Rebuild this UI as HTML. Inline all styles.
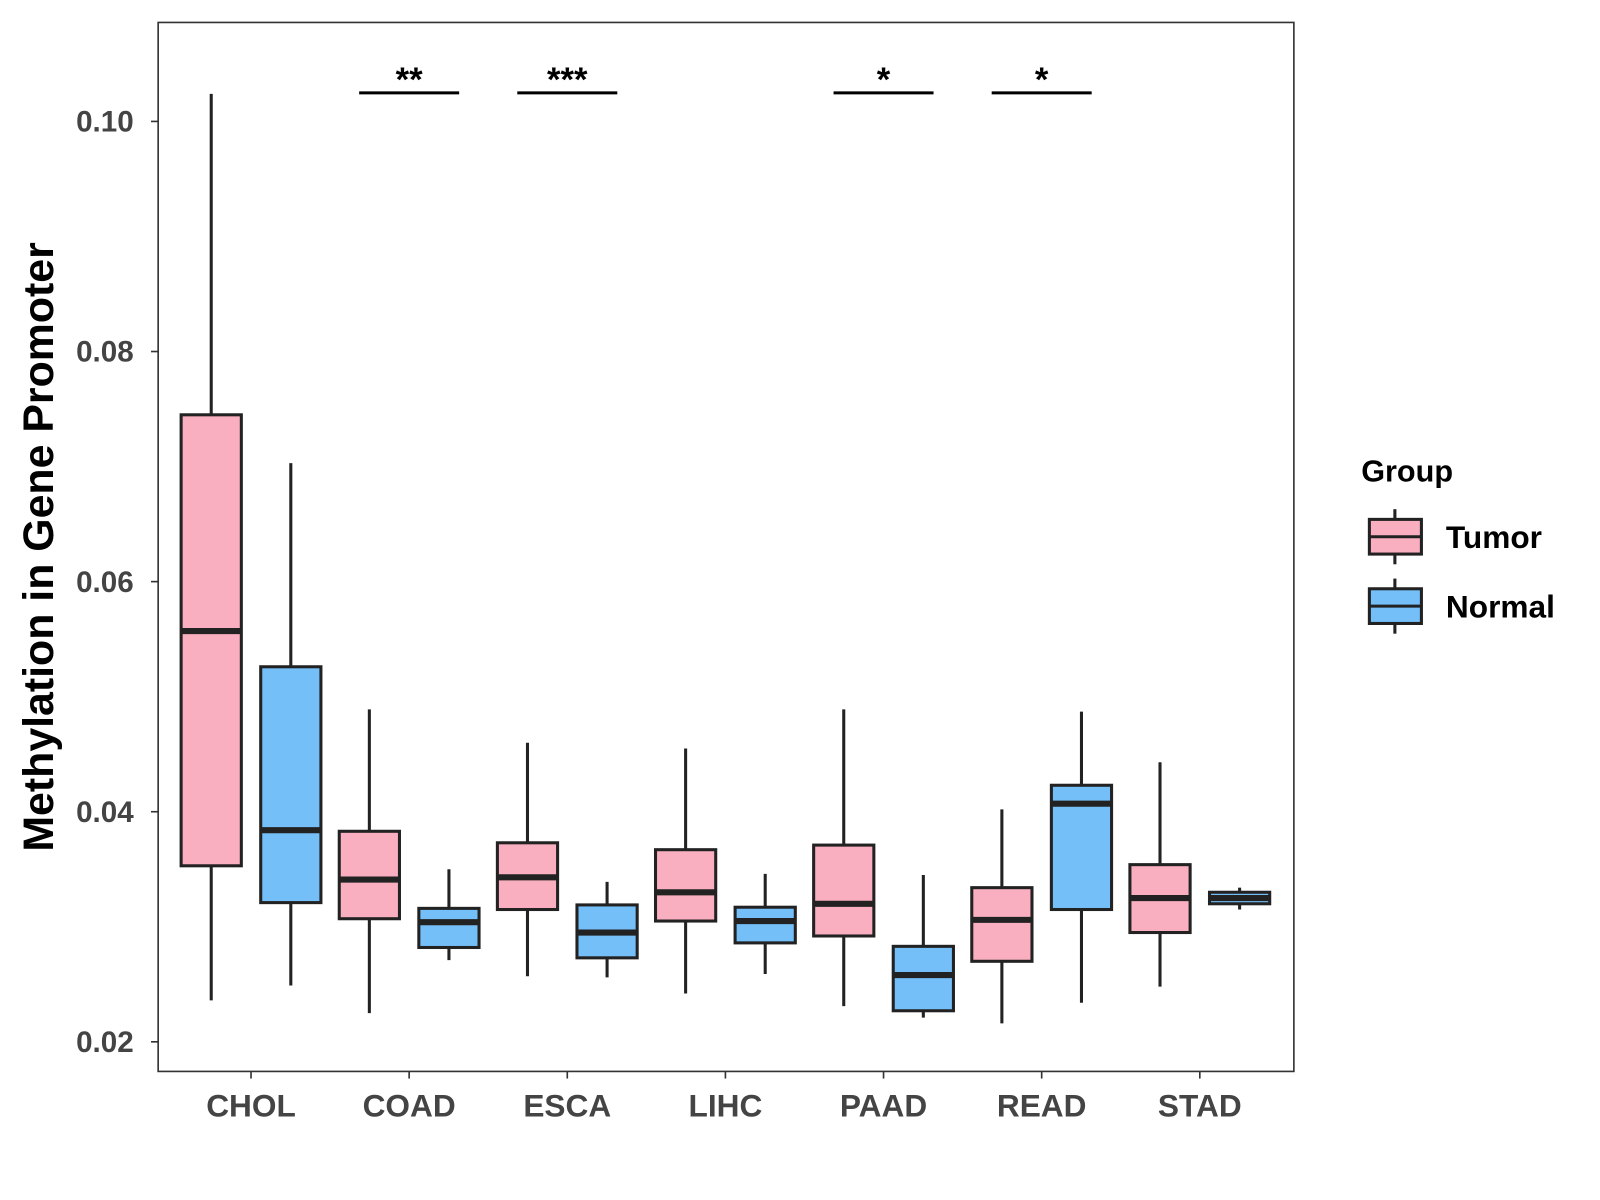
<!DOCTYPE html>
<html><head><meta charset="utf-8"><style>
body{margin:0;background:#fff}
svg{display:block;font-family:"Liberation Sans",Arial,sans-serif}
</style></head><body>
<svg id="chart" width="1600" height="1200" xmlns="http://www.w3.org/2000/svg">
<rect x="0" y="0" width="1600" height="1200" fill="#fff"/>
<g id="root" transform="scale(1.0204)">
<rect x="155" y="22" width="1113" height="1028" fill="none" stroke="#333" stroke-width="1.6"/>
<text transform="translate(52,536) rotate(-90)" text-anchor="middle" font-size="42" font-weight="bold" fill="#000">Methylation in Gene Promoter</text>
<g>
<text x="1334" y="472" font-size="30" font-weight="bold" fill="#000">Group</text>
</g>
</g>
</svg>
<script>
const categories=["CHOL","COAD","ESCA","LIHC","PAAD","READ","STAD"];
const tumorStats=[[0.0236,0.0353,0.0557,0.0745,0.1024],[0.0225,0.0307,0.0341,0.0383,0.0489],[0.0257,0.0315,0.0343,0.0373,0.046],[0.0242,0.0305,0.033,0.0367,0.0455],[0.0231,0.0292,0.032,0.0371,0.0489],[0.0216,0.027,0.0306,0.0334,0.0402],[0.0248,0.0295,0.0325,0.0354,0.0443]];
const normalStats=[[0.0249,0.0321,0.0384,0.0526,0.0703],[0.0271,0.0282,0.0304,0.0316,0.035],[0.0256,0.0273,0.0295,0.0319,0.0339],[0.0259,0.0286,0.0305,0.0317,0.0346],[0.0221,0.0227,0.0258,0.0283,0.0345],[0.0234,0.0315,0.0407,0.0423,0.0487],[0.0315,0.032,0.0325,0.033,0.0334]];
const yTicks=[0.02,0.04,0.06,0.08,0.10];
const sigLabels=["","**","***","","*","*",""];
const groups=["Tumor","Normal"];
const colors=["#FAAFC0","#74BFF8"];
const NS="http://www.w3.org/2000/svg";
const svg=document.getElementById("root");
function yS(v){return 1021-(v-0.02)/0.08*902;}
function xS(i){return 246+i*154.97;}
function el(t,a,p){const e=document.createElementNS(NS,t);for(const k in a)e.setAttribute(k,a[k]);(p||svg).appendChild(e);return e;}
yTicks.forEach(v=>{
  const y=yS(v);
  const t=el("line",{x1:148,x2:155,y1:y,y2:y,stroke:"#333","stroke-width":1.6});
  
  
  const l=el("text",{x:131,y:y+10,"text-anchor":"end","font-size":29,"font-weight":"bold",fill:"#444"});
  l.textContent=v.toFixed(2);
  
  
});
categories.forEach((c,i)=>{
  const x=xS(i);
  const t=el("line",{x1:x,x2:x,y1:1050,y2:1057,stroke:"#333","stroke-width":1.6});
  
  
  const l=el("text",{x:x,y:1094,"text-anchor":"middle","font-size":31,"font-weight":"bold",fill:"#444"});
  l.textContent=c;
  
  
  [tumorStats[i],normalStats[i]].forEach((s,g)=>{
    const cx=x+(g===0?-39:39), hw=29.5;
    const gr=el("g",{});
    
    
    el("line",{x1:cx,x2:cx,y1:yS(s[0]),y2:yS(s[4]),stroke:"#222","stroke-width":3},gr);
    el("rect",{x:cx-hw,y:yS(s[3]),width:2*hw,height:yS(s[1])-yS(s[3]),fill:colors[g],stroke:"#222","stroke-width":3},gr);
    el("line",{x1:cx-hw,x2:cx+hw,y1:yS(s[2]),y2:yS(s[2]),stroke:"#222","stroke-width":6},gr);
  });
  if(sigLabels[i]){
    const b=el("line",{x1:x-49,x2:x+49,y1:91,y2:91,stroke:"#000","stroke-width":3});
    
    
    const s=el("text",{x:x,y:89,"text-anchor":"middle","font-size":34,"font-weight":"bold",fill:"#000"});
    s.textContent=sigLabels[i];
    
    
  }
});
groups.forEach((g,k)=>{
  const y0=509+k*68;
  const gr=el("g",{});
  
  
  el("line",{x1:1367,x2:1367,y1:y0-10,y2:y0+44,stroke:"#222","stroke-width":3},gr);
  el("rect",{x:1342,y:y0,width:51,height:34,fill:colors[k],stroke:"#222","stroke-width":3},gr);
  el("line",{x1:1342,x2:1393,y1:y0+17,y2:y0+17,stroke:"#222","stroke-width":3},gr);
  const t=el("text",{x:1417,y:y0+28,"font-size":31,"font-weight":"bold",fill:"#000"},gr);
  t.textContent=g;
});
</script>
</body></html>
